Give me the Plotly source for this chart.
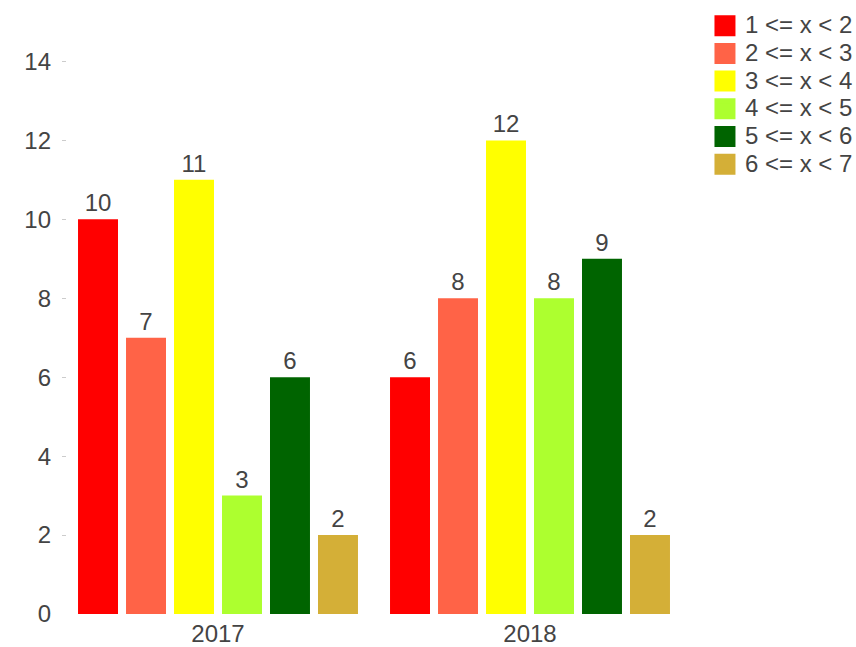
import plotly.graph_objects as go

years = ["2017", "2018"]
series_names = ["1 <= x < 2", "2 <= x < 3", "3 <= x < 4", "4 <= x < 5", "5 <= x < 6", "6 <= x < 7"]
values = [
    [10, 6],
    [7, 8],
    [11, 12],
    [3, 8],
    [6, 9],
    [2, 2],
]
colors = ["#FF0000", "#FF6347", "#FFFF00", "#ADFF2F", "#006400", "#D4AF37"]

fig = go.Figure()
for name, vals, col in zip(series_names, values, colors):
    fig.add_trace(go.Bar(
        x=years, y=vals, name=name, legendgroup=name, showlegend=False,
        marker=dict(color=col, line=dict(width=0)),
        text=vals, textposition="outside",
        textfont=dict(size=24, color="#444"),
        cliponaxis=False,
    ))
# legend entries (square swatches)
for name, col in zip(series_names, colors):
    fig.add_trace(go.Scatter(
        x=[None], y=[None], mode="markers", legendgroup=name,
        name="<span style='font-size:24px'>" + name + "</span>",
        marker=dict(symbol="square", size=16, color=col, line=dict(color=col, width=5)),
        hoverinfo="skip",
    ))

fig.update_layout(
    width=856, height=647,
    barmode="group", bargap=0.077, bargroupgap=0.167,
    plot_bgcolor="white", paper_bgcolor="white",
    font=dict(family="Liberation Sans, Arial, sans-serif", size=24, color="#444"),
    margin=dict(l=62, r=170, t=22, b=33, autoexpand=False),
    legend=dict(x=1.0304, xanchor="left", y=1.0256, yanchor="top",
                font=dict(size=19), tracegroupgap=0, bgcolor="rgba(0,0,0,0)",
                itemsizing="trace"),
    xaxis=dict(showgrid=False, showline=False, ticks="", zeroline=False,
               automargin=False, ticklabelstandoff=3),
    yaxis=dict(range=[0, 15], tickvals=[0, 2, 4, 6, 8, 10, 12, 14], showgrid=False,
               zeroline=False, showline=False, ticks="inside", ticklen=4,
               tickcolor="#ccc", tickwidth=1, automargin=False, ticklabelstandoff=10),
)

fig.write_html("out.html", config={"displayModeBar": False},
               post_script="document.body.style.margin='0';document.body.style.overflow='hidden';")
